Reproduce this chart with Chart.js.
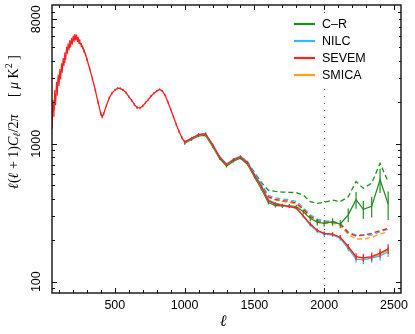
<!DOCTYPE html>
<html>
<head>
<meta charset="utf-8">
<script src="https://cdn.jsdelivr.net/npm/chart.js@4.4.1/dist/chart.umd.min.js"></script>
<style>
  html, body { margin: 0; padding: 0; background: #fff; }
</style>
</head>
<body>
<canvas id="chart" width="415" height="334"></canvas>
<script>
// Low multipoles, only SEVEM is visible there (the others sit underneath)
const ellLow = [52, 58, 64, 70, 76, 82, 88, 94, 100, 106, 112, 118, 124, 130, 136, 142, 148, 154, 160, 166,
    172, 178, 184, 190, 196, 202, 208, 214, 220, 226, 232, 238, 244, 250, 260, 270, 280, 290, 300, 320,
    340, 360, 380, 400, 410, 420, 440, 460, 480, 500, 520, 540, 560, 580, 600, 620, 640, 660, 680, 700,
    720, 740, 760, 780, 800, 820, 840, 860, 880, 900, 920, 940, 960, 980];
const sevemLow = [1450, 1900, 1750, 2250, 2100, 2600, 2450, 2950, 2850, 3250, 3150, 3600, 3500, 3950, 3900, 4350, 4300, 4800, 4750, 5100,
    5000, 5400, 5300, 5600, 5500, 5850, 5700, 6000, 5850, 5950, 5700, 5750, 5500, 5500, 5200, 5000, 4700, 4450, 4100, 3500,
    2950, 2450, 2000, 1650, 1570, 1650, 1900, 2150, 2330, 2450, 2530, 2520, 2450, 2350, 2200, 2070, 1930, 1830, 1820, 1880,
    1990, 2090, 2220, 2330, 2410, 2480, 2420, 2250, 2010, 1780, 1570, 1380, 1230, 1110];
const sevemLowErr = [160, 190, 180, 210, 200, 220, 210, 230, 220, 230, 220, 240, 230, 240, 230, 250, 240, 250, 250, 260,
    250, 260, 250, 260, 250, 250, 240, 250, 240, 240, 230, 230, 220, 210, 180, 160, 140, 120, 110, 90,
    75, 60, 50, 45, 40, 40, 40, 40, 40, 40, 40, 40, 40, 40, 40, 40, 40, 40, 40, 40,
    40, 40, 40, 40, 40, 40, 40, 40, 40, 40, 35, 30, 30, 28];

// High multipoles, all four methods
const ellHigh = [1000, 1050, 1100, 1150, 1200, 1250, 1300, 1350, 1400, 1450, 1500, 1550, 1600, 1650, 1700,
    1750, 1800, 1850, 1900, 1950, 2000, 2060, 2115, 2172, 2228, 2280, 2340, 2400, 2458];

const sevemHigh = [1030, 1095, 1165, 1180, 985, 800, 705, 765, 802, 728, 590, 490, 385, 366, 357,
    351, 342, 300, 262, 236, 224, 221, 210, 180, 152, 149, 152, 161, 173];
const sevemHighErr = [25, 25, 25, 25, 22, 18, 16, 16, 16, 15, 13, 11, 9, 8, 8,
    8, 8, 7, 7, 7, 7, 7, 8, 8, 9, 10, 11, 12, 14];
const nilcHigh = [1035, 1100, 1170, 1188, 992, 812, 714, 774, 812, 738, 600, 500, 392, 371, 360,
    353, 343, 298, 258, 232, 221, 218, 206, 174, 146, 144, 148, 154, 165];
const smicaHigh = [1028, 1092, 1162, 1176, 982, 803, 708, 768, 806, 731, 594, 486, 388, 368, 358,
    352, 342, 300, 260, 234, 223, 220, 209, 177, 150, 148, 150, 158, 170];
const crHigh = [1010, 1075, 1140, 1152, 958, 785, 688, 748, 786, 712, 575, 470, 375, 357, 355,
    354, 350, 322, 288, 270, 265, 272, 262, 305, 393, 335, 352, 550, 365];
const crHighErr = [25, 25, 25, 25, 22, 18, 16, 16, 16, 15, 13, 12, 12, 12, 12,
    12, 12, 12, 14, 14, 15, 17, 18, 35, 55, 50, 60, 110, 85];

// dashed curves (split from the solid ones above l ~ 1400)
const sevemDash = [null, null, null, null, null, null, null, null, 802, 730, 600, 500, 412, 396, 388,
    382, 372, 336, 298, 277, 271, 270, 262, 226, 214, 218, 224, 234, 244];
const nilcDash = [null, null, null, null, null, null, null, null, 812, 740, 612, 512, 422, 406, 398,
    392, 382, 345, 306, 284, 276, 274, 265, 230, 218, 218, 218, 230, 240];
const smicaDash = [null, null, null, null, null, null, null, null, 806, 728, 596, 494, 406, 390, 382,
    376, 366, 330, 292, 272, 266, 266, 256, 220, 204, 204, 210, 222, 230];
const crDash = [null, null, null, null, null, null, null, null, 800, 745, 620, 525, 460, 452, 446,
    445, 442, 425, 381, 370, 376, 391, 381, 413, 532, 476, 518, 722, 532];

const xTickLabels = [500, 1000, 1500, 2000, 2500];
const yTickLabels = [100, 1000, 8000];
const markerEll = 2000;

const legendNames = ['C–R', 'NILC', 'SEVEM', 'SMICA'];
const colors = {
    'C–R': '#1f8f1f',
    'NILC': '#33b8f0',
    'SEVEM': '#ff1f1f',
    'SMICA': '#ffa21a'
};

function pts(ells, vals) {
    return ells.map((l, i) => ({ x: l, y: vals[i] }));
}

function solid(name, data, errors, order) {
    return {
        label: name,
        data: data,
        errors: errors,
        borderColor: colors[name],
        borderWidth: 1.3,
        order: order
    };
}

function dashed(name, vals, order) {
    return {
        label: name + ' dashed',
        data: pts(ellHigh, vals),
        borderColor: colors[name],
        borderWidth: 1.3,
        borderDash: [5, 3],
        order: order
    };
}

const datasets = [
    solid('SEVEM', pts(ellLow.concat(ellHigh), sevemLow.concat(sevemHigh)), sevemLowErr.concat(sevemHighErr), 0),
    solid('NILC', pts(ellHigh, nilcHigh), sevemHighErr, 1),
    solid('SMICA', pts(ellHigh, smicaHigh), null, 2),
    solid('C–R', pts(ellHigh, crHigh), crHighErr, 3),
    dashed('SEVEM', sevemDash, 4),
    dashed('NILC', nilcDash, 5),
    dashed('SMICA', smicaDash, 6),
    dashed('C–R', crDash, 7)
];

const tickFont = '12.5px "Liberation Sans", Arial, sans-serif';
const serif = '"Liberation Serif", "DejaVu Serif", serif';

function drawYTitle(ctx, cx, cy) {
    const parts = [
        ['ℓ', 'italic 14px ' + serif, 0],
        ['(', '14px ' + serif, 0],
        ['ℓ', 'italic 14px ' + serif, 0],
        [' + 1)', '14px ' + serif, 0],
        ['C', 'italic 14px ' + serif, 0],
        ['ℓ', 'italic 10px ' + serif, 3],
        ['/2', '14px ' + serif, 0],
        ['π', 'italic 14px ' + serif, 0],
        ['     [ ', '14px ' + serif, 0],
        ['μ', 'italic 14px ' + serif, 0],
        [' K', '14px ' + serif, 0],
        ['2', '10px ' + serif, -5],
        [' ]', '14px ' + serif, 0]
    ];
    let total = 0;
    parts.forEach(p => { ctx.font = p[1]; total += ctx.measureText(p[0]).width; });
    ctx.save();
    ctx.translate(cx, cy);
    ctx.rotate(-Math.PI / 2);
    ctx.fillStyle = '#000';
    ctx.textBaseline = 'middle';
    ctx.textAlign = 'left';
    let xPos = -total / 2;
    parts.forEach(p => {
        ctx.font = p[1];
        ctx.fillText(p[0], xPos, p[2]);
        xPos += ctx.measureText(p[0]).width;
    });
    ctx.restore();
}

const framePlugin = {
    id: 'frame',
    beforeDatasetsDraw(chart) {
        const { ctx, chartArea: a, scales: { x } } = chart;
        const px = Math.round(x.getPixelForValue(markerEll)) + 0.5;
        ctx.save();
        ctx.strokeStyle = '#555';
        ctx.lineWidth = 1;
        ctx.setLineDash([1, 6]);
        ctx.beginPath();
        ctx.moveTo(px, a.top);
        ctx.lineTo(px, a.bottom);
        ctx.stroke();
        ctx.restore();
    },
    afterDatasetDraw(chart, args) {
        const ds = chart.data.datasets[args.index];
        if (!ds.errors) return;
        const { ctx, chartArea: a, scales: { x, y } } = chart;
        ctx.save();
        ctx.beginPath();
        ctx.rect(a.left, a.top, a.right - a.left, a.bottom - a.top);
        ctx.clip();
        ctx.strokeStyle = ds.borderColor;
        ctx.lineWidth = 1.2;
        ctx.beginPath();
        ds.data.forEach((p, i) => {
            const e = ds.errors[i];
            if (p.y == null || !e) return;
            const px = x.getPixelForValue(p.x);
            ctx.moveTo(px, y.getPixelForValue(p.y - e));
            ctx.lineTo(px, y.getPixelForValue(p.y + e));
        });
        ctx.stroke();
        ctx.restore();
    },
    afterDraw(chart) {
        const { ctx, chartArea: a, scales: { x, y } } = chart;
        ctx.save();
        // frame
        ctx.strokeStyle = '#111';
        ctx.lineWidth = 1.4;
        ctx.strokeRect(a.left, a.top, a.right - a.left, a.bottom - a.top);

        // ticks, inside the frame, on all four sides
        ctx.lineWidth = 1;
        ctx.beginPath();
        for (let v = 100; v <= 2500; v += 100) {
            const px = Math.round(x.getPixelForValue(v)) + 0.5;
            const len = v % 500 === 0 ? 5 : 3;
            ctx.moveTo(px, a.bottom); ctx.lineTo(px, a.bottom - len);
            ctx.moveTo(px, a.top); ctx.lineTo(px, a.top + len);
        }
        const yMinor = [90];
        for (let d = 100; d <= 1000; d *= 10) {
            for (let m = 2; m <= 9; m++) yMinor.push(m * d);
        }
        yMinor.forEach(v => {
            const py = Math.round(y.getPixelForValue(v)) + 0.5;
            const len = yTickLabels.includes(v) ? 5 : 3;
            ctx.moveTo(a.left, py); ctx.lineTo(a.left + len, py);
            ctx.moveTo(a.right, py); ctx.lineTo(a.right - len, py);
        });
        yTickLabels.forEach(v => {
            const py = Math.round(y.getPixelForValue(v)) + 0.5;
            ctx.moveTo(a.left, py); ctx.lineTo(a.left + 5, py);
            ctx.moveTo(a.right, py); ctx.lineTo(a.right - 5, py);
        });
        ctx.stroke();

        // tick labels
        ctx.fillStyle = '#000';
        ctx.font = tickFont;
        ctx.textAlign = 'center';
        ctx.textBaseline = 'middle';
        xTickLabels.forEach(v => {
            ctx.fillText(String(v), x.getPixelForValue(v), a.bottom + 12.5);
        });
        yTickLabels.forEach(v => {
            ctx.save();
            ctx.translate(37, y.getPixelForValue(v));
            ctx.rotate(-Math.PI / 2);
            ctx.fillText(String(v), 0, 0);
            ctx.restore();
        });

        // axis titles
        ctx.font = 'italic 16px ' + serif;
        ctx.fillText('ℓ', 223, 322);
        drawYTitle(ctx, 14, 122);

        // legend box, inside the plot, top right
        ctx.fillStyle = '#fff';
        ctx.fillRect(288, 16, 111, 71);
        legendNames.forEach((name, i) => {
            const ly = 24 + 17 * i;
            ctx.strokeStyle = colors[name];
            ctx.lineWidth = 2.2;
            ctx.beginPath();
            ctx.moveTo(294, ly);
            ctx.lineTo(315, ly);
            ctx.stroke();
            ctx.fillStyle = '#000';
            ctx.font = tickFont;
            ctx.textAlign = 'left';
            ctx.fillText(name, 322, ly + 0.5);
        });
        ctx.restore();
    }
};

const chartElement = document.querySelector('#chart');
new Chart(chartElement.getContext('2d'), {
    type: 'line',
    data: { datasets: datasets },
    options: {
        responsive: false,
        animation: false,
        devicePixelRatio: 1,
        layout: { padding: { left: 52, right: 14, top: 5, bottom: 41 } },
        elements: {
            point: { radius: 0 },
            line: { tension: 0 }
        },
        plugins: {
            legend: { display: false },
            tooltip: { enabled: false }
        },
        scales: {
            x: { type: 'linear', min: 50, max: 2550, bounds: 'data', display: false },
            y: { type: 'logarithmic', min: 82.8, max: 10150, bounds: 'data', display: false }
        }
    },
    plugins: [framePlugin]
});
</script>
</body>
</html>
